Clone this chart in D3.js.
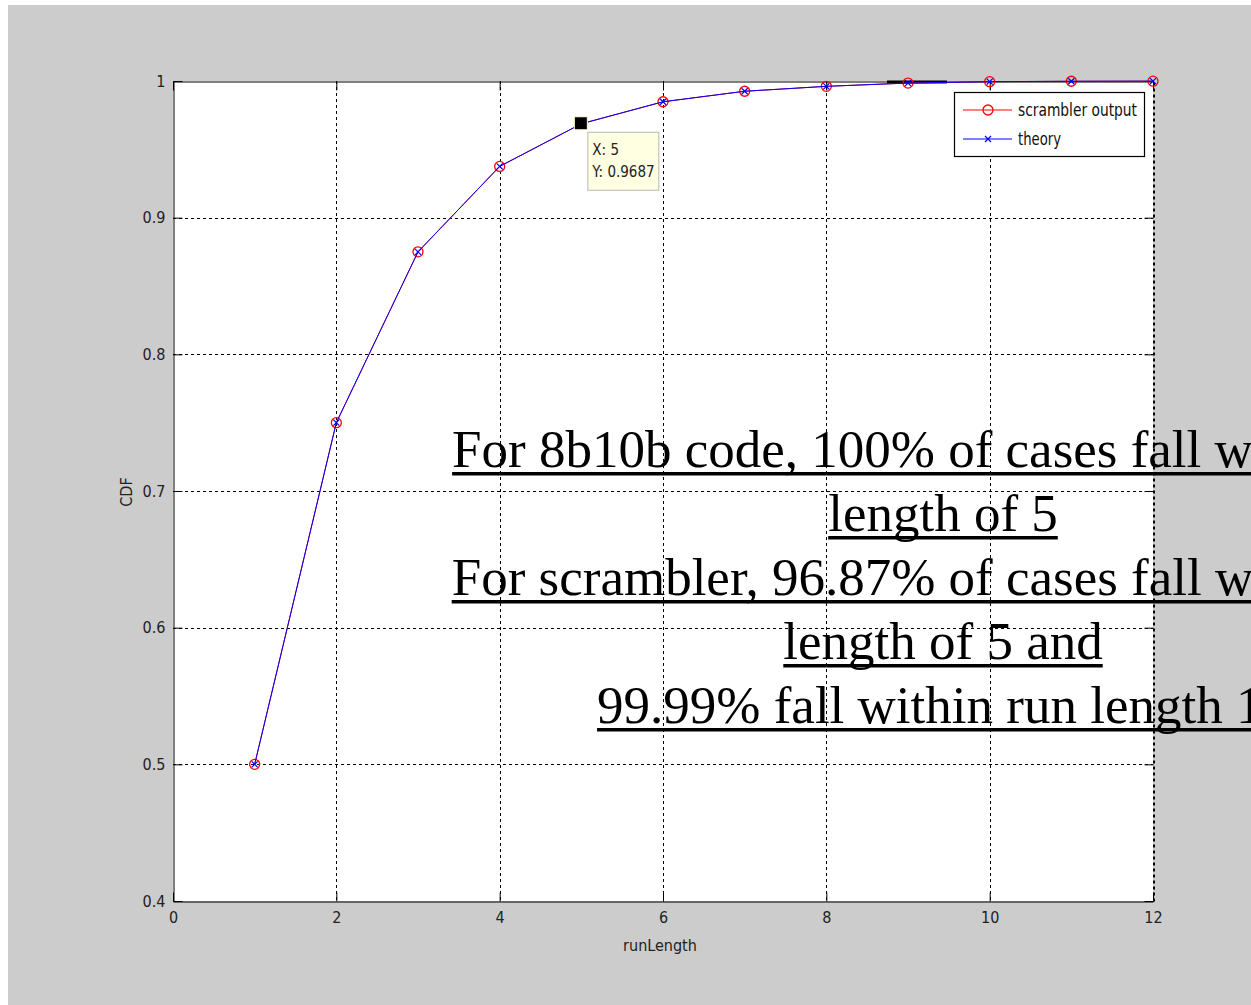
<!DOCTYPE html>
<html>
<head>
<meta charset="utf-8">
<script src="https://cdn.jsdelivr.net/npm/d3@7"></script>
<style>
  html, body { margin: 0; padding: 0; background: #fff; }
  svg { display: block; }
</style>
</head>
<body>
<script>
// ---- data ----
const runLength = [1, 2, 3, 4, 5, 6, 7, 8, 9, 10, 11, 12];
const scramblerOutput = [0.5, 0.75, 0.875, 0.9375, 0.9687, 0.9848, 0.9925, 0.9961, 0.9985, 0.9995, 0.9998, 0.9999];
const theory = [0.5, 0.75, 0.875, 0.9375, 0.9687, 0.9848, 0.9925, 0.9961, 0.9985, 0.9995, 0.9998, 0.9999];
const xTicks = [0, 2, 4, 6, 8, 10, 12];
const yTicks = [0.4, 0.5, 0.6, 0.7, 0.8, 0.9, 1];
const yTickLabels = ["0.4", "0.5", "0.6", "0.7", "0.8", "0.9", "1"];
const seriesNames = ["scrambler output", "theory"];
const tipX = 5, tipY = 0.9687;
const annotation = [
  "For 8b10b code, 100% of cases fall within run",
  "length of 5",
  "For scrambler, 96.87% of cases fall within run",
  "length of 5 and",
  "99.99% fall within run length 10"
];

const W = 1251, H = 1005;
const svg = d3.select("body").append("svg").attr("width", W).attr("height", H);

// figure background
svg.append("rect").attr("x", 0).attr("y", 0).attr("width", W).attr("height", H).attr("fill", "#ffffff");
svg.append("rect").attr("x", 8).attr("y", 5).attr("width", W - 8).attr("height", H - 5).attr("fill", "#cccccc");

const x = d3.scaleLinear().domain([0, 12]).range([173, 1153]);
const y = d3.scaleLinear().domain([0.4, 1]).range([901, 81]);

const L = x(0), R = x(12), T = y(1), B = y(0.4);
const tickFont = "'DejaVu Sans Condensed', 'Liberation Sans Narrow', 'Liberation Sans', sans-serif";

// plot area
svg.append("rect").attr("x", L).attr("y", T).attr("width", R - L).attr("height", B - T).attr("fill", "#ffffff");

// grid
const grid = svg.append("g").attr("stroke", "#000").attr("stroke-width", 1).attr("stroke-dasharray", "3,3");
grid.selectAll("line.gx").data(xTicks.slice(1, -1)).join("line")
  .attr("x1", d => Math.round(x(d)) + 0.5).attr("x2", d => Math.round(x(d)) + 0.5)
  .attr("y1", T).attr("y2", B);
grid.selectAll("line.gy").data(yTicks.slice(1, -1)).join("line")
  .attr("y1", d => Math.round(y(d)) + 0.5).attr("y2", d => Math.round(y(d)) + 0.5)
  .attr("x1", L).attr("x2", R);

// axes with inward ticks
const axB = svg.append("g").attr("transform", `translate(0,${B + 0.5})`)
  .call(d3.axisBottom(x).tickValues(xTicks).tickSizeInner(-9).tickSizeOuter(0).tickPadding(10));
const axT = svg.append("g").attr("transform", `translate(0,${T + 0.5})`)
  .call(d3.axisTop(x).tickValues(xTicks).tickSizeInner(-9).tickSizeOuter(0).tickFormat(""));
const axL = svg.append("g").attr("transform", `translate(${L + 0.5},0)`)
  .call(d3.axisLeft(y).tickValues(yTicks).tickSizeInner(-9).tickSizeOuter(0).tickPadding(8)
    .tickFormat((d, i) => yTickLabels[i]));
const axR = svg.append("g").attr("transform", `translate(${R + 0.5},0)`)
  .call(d3.axisRight(y).tickValues(yTicks).tickSizeInner(-9).tickSizeOuter(0).tickFormat(""));

[axB, axT, axL, axR].forEach(a => {
  a.select(".domain").attr("stroke", "#000");
  a.selectAll(".tick line").attr("stroke", "#000");
  a.selectAll("text").attr("font-family", tickFont).attr("font-size", 16).attr("fill", "#222");
});
axR.select(".domain").attr("stroke-dasharray", "3,3").attr("stroke-width", 2);
axB.selectAll("text").attr("dy", "0.71em");

// small artifact segment on the top border
svg.append("line").attr("x1", 887).attr("x2", 947).attr("y1", T + 1).attr("y2", T + 1)
  .attr("stroke", "#000").attr("stroke-width", 3);

// axis titles
svg.append("text").attr("x", 660).attr("y", 951).attr("text-anchor", "middle")
  .attr("font-family", tickFont).attr("font-size", 16).attr("fill", "#222").text("runLength");
svg.append("text").attr("transform", "translate(132,492) rotate(-90)").attr("text-anchor", "middle")
  .attr("font-family", tickFont).attr("font-size", 16).attr("fill", "#222").text("CDF");

// series
const line = d3.line().x((d, i) => x(runLength[i])).y(d => y(d));
svg.append("path").datum(scramblerOutput).attr("d", line).attr("fill", "none").attr("stroke", "#ff0000").attr("stroke-width", 1);
svg.append("g").selectAll("circle").data(scramblerOutput).join("circle")
  .attr("cx", (d, i) => x(runLength[i])).attr("cy", d => y(d)).attr("r", 5)
  .attr("fill", "none").attr("stroke", "#ff0000").attr("stroke-width", 1.3);

svg.append("path").datum(theory).attr("d", line).attr("fill", "none").attr("stroke", "#0000ff").attr("stroke-width", 1);
const xm = svg.append("g").attr("stroke", "#0000ff").attr("stroke-width", 1.2);
theory.forEach((d, i) => {
  const cx = x(runLength[i]), cy = y(d), s = 3;
  xm.append("path").attr("d", `M${cx - s},${cy - s}L${cx + s},${cy + s}M${cx - s},${cy + s}L${cx + s},${cy - s}`);
});

// data tip
const tx = x(tipX), ty = y(tipY);
svg.append("rect").attr("x", tx - 7).attr("y", ty - 7).attr("width", 13).attr("height", 13)
  .attr("fill", "#000").attr("stroke", "#ffffcc").attr("stroke-width", 1);
svg.append("rect").attr("x", tx + 6.5).attr("y", ty + 8.5).attr("width", 71).attr("height", 58)
  .attr("fill", "#ffffe1").attr("stroke", "#b8b8b8").attr("stroke-width", 1);
svg.append("text").attr("x", tx + 11).attr("y", ty + 31).attr("font-family", tickFont)
  .attr("font-size", 15).attr("fill", "#222").text("X: " + tipX);
svg.append("text").attr("x", tx + 11).attr("y", ty + 53).attr("font-family", tickFont)
  .attr("font-size", 15).attr("fill", "#222").text("Y: " + tipY);

// legend
const lg = svg.append("g");
lg.append("rect").attr("x", 954.5).attr("y", 92.5).attr("width", 190).attr("height", 64)
  .attr("fill", "#fff").attr("stroke", "#000").attr("stroke-width", 1.2);
const legRows = [
  { name: seriesNames[0], color: "#ff0000", marker: "o", yy: 110, tl: 119 },
  { name: seriesNames[1], color: "#0000ff", marker: "x", yy: 139, tl: 43 }
];
legRows.forEach(r => {
  lg.append("line").attr("x1", 963).attr("x2", 1012).attr("y1", r.yy).attr("y2", r.yy)
    .attr("stroke", r.color).attr("stroke-width", 1);
  if (r.marker === "o") {
    lg.append("circle").attr("cx", 988).attr("cy", r.yy).attr("r", 5).attr("fill", "none")
      .attr("stroke", r.color).attr("stroke-width", 1.3);
  } else {
    const s = 3;
    lg.append("path").attr("d", `M${988 - s},${r.yy - s}L${988 + s},${r.yy + s}M${988 - s},${r.yy + s}L${988 + s},${r.yy - s}`)
      .attr("stroke", r.color).attr("stroke-width", 1.2);
  }
  lg.append("text").attr("x", 1018).attr("y", r.yy + 6).attr("font-family", tickFont)
    .attr("font-size", 18).attr("fill", "#111")
    .attr("textLength", r.tl).attr("lengthAdjust", "spacingAndGlyphs").text(r.name);
});

// annotation text (underlined, centred; overflows the window as in the original slide)
const ann = svg.append("g");
const cxAnn = 943;
annotation.forEach((t, i) => {
  const by = 467 + i * 64;
  const txt = ann.append("text").attr("x", cxAnn).attr("y", by).attr("text-anchor", "middle")
    .attr("font-family", "'Liberation Serif', 'Times New Roman', serif").attr("font-size", 53)
    .attr("fill", "#000").text(t);
  const w = txt.node().getComputedTextLength();
  ann.append("rect").attr("x", cxAnn - w / 2).attr("y", by + 5).attr("width", w).attr("height", 3.5).attr("fill", "#000");
});
</script>
</body>
</html>
